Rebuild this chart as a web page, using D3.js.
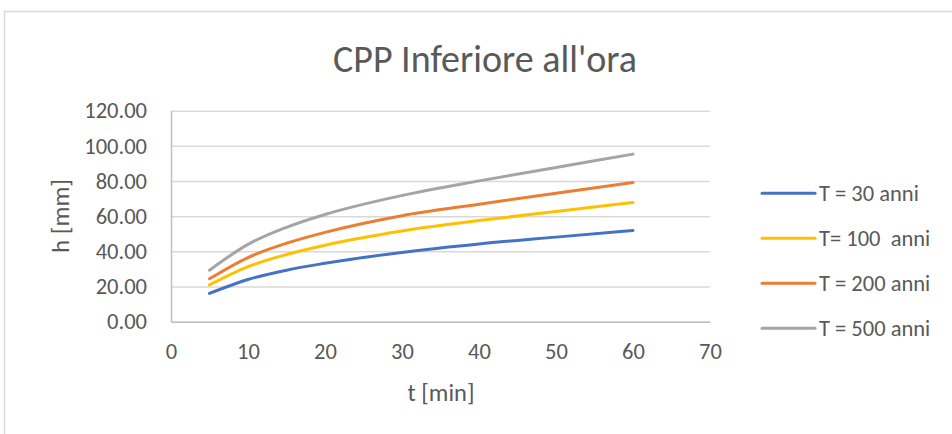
<!DOCTYPE html>
<html>
<head>
<meta charset="utf-8">
<script src="https://cdn.jsdelivr.net/npm/d3@7"></script>
<style>
    body { margin: 0; background: #fff; }
    text { font-family: Carlito, Lato, sans-serif; fill: #595959; }
</style>
</head>
<body>
<div id="chart"></div>
<script>
    // durations [min]
    const durations = [5, 10, 15, 20, 30, 40, 50, 60];

    // h [mm] for each return period
    const h30 = [16.1, 24.0, 29.3, 33.2, 39.4, 44.2, 48.1, 51.9];
    const h100 = [20.9, 31.3, 38.2, 43.5, 51.6, 57.5, 62.7, 67.8];
    const h200 = [24.4, 36.5, 44.6, 50.8, 60.3, 66.8, 73.1, 79.2];
    const h500 = [29.3, 44.0, 53.7, 61.0, 71.8, 80.1, 87.7, 95.3];

    const seriesNames = ['T = 30 anni', 'T= 100  anni', 'T = 200 anni', 'T = 500 anni'];
    const seriesColors = ['#4472C4', '#FFC000', '#ED7D31', '#A5A5A5'];
    const xTicks = [0, 10, 20, 30, 40, 50, 60, 70];
    const yTicks = [0, 20, 40, 60, 80, 100, 120];

    const series = [h30, h100, h200, h500].map((values, i) => ({
        name: seriesNames[i],
        color: seriesColors[i],
        points: values.map((v, j) => ({ t: durations[j], h: v }))
    }));

    const width = 952;
    const height = 434;
    const margins = { top: 110.7, left: 171, right: 242, bottom: 112.3 };
    const plotW = width - margins.left - margins.right;
    const plotH = height - margins.top - margins.bottom;

    const svg = d3.select('#chart')
        .append('svg')
        .attr('width', width)
        .attr('height', height);

    //frame
    svg.append('rect')
        .attr('x', 4.5)
        .attr('y', 11.5)
        .attr('width', 1000)
        .attr('height', 500)
        .attr('fill', 'none')
        .attr('stroke', '#d9d9d9')
        .attr('stroke-width', 1.5);

    //title
    svg.append('text')
        .attr('x', 485)
        .attr('y', 72)
        .attr('text-anchor', 'middle')
        .style('font-size', '38px')
        .text("CPP Inferiore all'ora");

    const chart = svg.append('g')
        .attr('transform', `translate(${margins.left},${margins.top})`);

    //scales
    const x = d3.scaleLinear().domain([0, 70]).range([0, plotW]);
    const y = d3.scaleLinear().domain([0, 120]).range([plotH, 0]);

    //grid lines
    chart.append('g')
        .call(d3.axisLeft(y).tickValues(yTicks).tickSize(-plotW).tickFormat(''))
        .call(g => g.select('.domain').remove())
        .call(g => g.selectAll('line').attr('stroke', '#d9d9d9').attr('stroke-width', 1.5));

    //y axis
    const yAxis = chart.append('g')
        .call(d3.axisLeft(y).tickValues(yTicks).tickSize(0).tickPadding(24).tickFormat(d3.format('.2f')));
    yAxis.select('.domain').attr('stroke', '#bfbfbf').attr('stroke-width', 1.5);
    yAxis.selectAll('text')
        .style('font-size', '22.5px')
        .style('font-family', 'Carlito, Lato, sans-serif')
        .attr('fill', '#595959');

    //x axis
    const xAxis = chart.append('g')
        .attr('transform', `translate(0,${plotH})`)
        .call(d3.axisBottom(x).tickValues(xTicks).tickSize(0).tickPadding(21));
    xAxis.select('.domain').attr('stroke', '#bfbfbf').attr('stroke-width', 1.5);
    xAxis.selectAll('text')
        .style('font-size', '22.5px')
        .style('font-family', 'Carlito, Lato, sans-serif')
        .attr('fill', '#595959');

    //axis titles
    svg.append('text')
        .attr('x', 441)
        .attr('y', 401)
        .attr('text-anchor', 'middle')
        .style('font-size', '24.5px')
        .text('t [min]');
    svg.append('text')
        .attr('transform', 'translate(69,216) rotate(-90)')
        .attr('text-anchor', 'middle')
        .style('font-size', '25px')
        .text('h [mm]');

    //lines
    const line = d3.line()
        .x(d => x(d.t))
        .y(d => y(d.h))
        .curve(d3.curveMonotoneX);
    chart.selectAll('.series')
        .data(series)
        .join('path')
        .classed('series', true)
        .attr('d', d => line(d.points))
        .attr('fill', 'none')
        .attr('stroke', d => d.color)
        .attr('stroke-width', 3)
        .attr('stroke-linecap', 'round')
        .attr('stroke-linejoin', 'round');

    //legend
    const legend = svg.append('g')
        .attr('transform', 'translate(762,193.3)');
    const item = legend.selectAll('g')
        .data(series)
        .join('g')
        .attr('transform', (d, i) => `translate(0,${i * 45})`);
    item.append('line')
        .attr('x1', 0)
        .attr('x2', 53)
        .attr('stroke', d => d.color)
        .attr('stroke-width', 3)
        .attr('stroke-linecap', 'round');
    item.append('text')
        .attr('x', 57)
        .attr('y', 8)
        .style('font-size', '22.5px')
        .style('white-space', 'pre')
        .text(d => d.name);
</script>
</body>
</html>
